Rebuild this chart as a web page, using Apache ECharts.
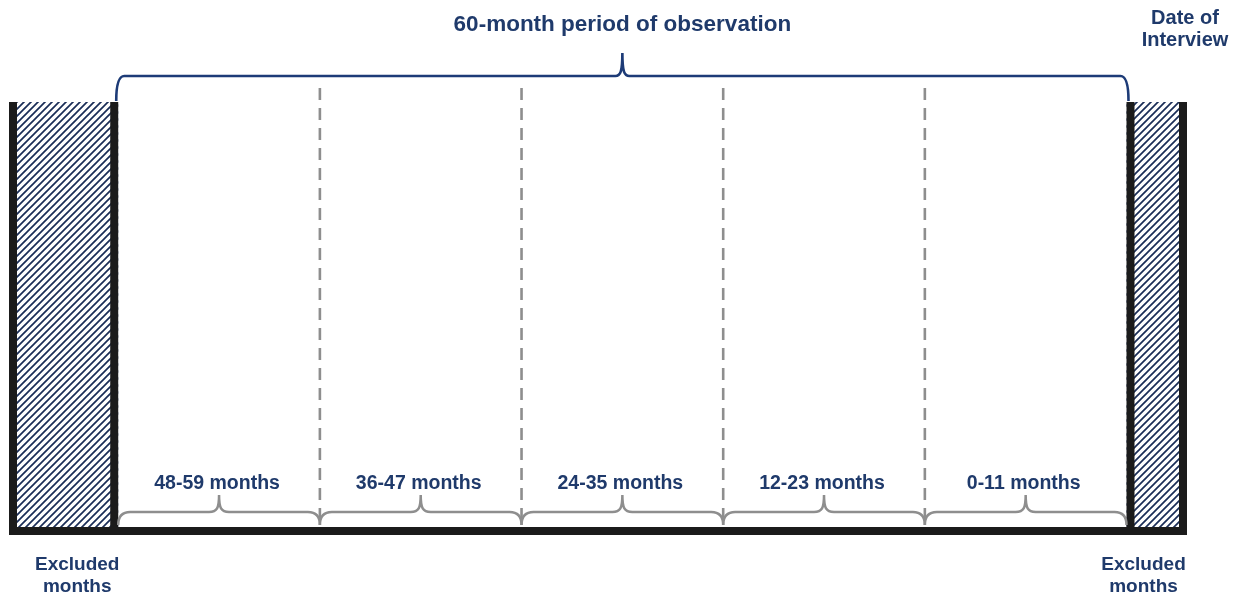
<!DOCTYPE html>
<html>
<head>
<meta charset="utf-8">
<style>
  html, body { margin: 0; padding: 0; background: #ffffff; }
  #chart { width: 1241px; height: 598px; }
</style>
<script src="https://cdn.jsdelivr.net/npm/echarts@6/dist/echarts.min.js"></script>
</head>
<body>
<div id="chart"></div>
<script>
// ---- data (months before the date of interview) ----
const periodLabels = ['48-59 months', '36-47 months', '24-35 months', '12-23 months', '0-11 months'];
const periodOlderEdge = [60, 48, 36, 24, 12];
const periodNewerEdge = [48, 36, 24, 12, 0];
const dividerMonths = [48, 36, 24, 12];
const excludedOlderEdge = [66.5, 0];
const excludedNewerEdge = [60, -3.6];
const excludedLabels = ['Excluded\nmonths', 'Excluded\nmonths'];
const excludedTopLabels = ['', 'Date of\nInterview'];
const observationSpan = [60, 0];
const observationLabel = '60-month period of observation';
const axisMin = -3.6;
const axisMax = 66.5;

// ---- styles ----
const NAVY = '#1f3a6b';
const BRACE_BLUE = '#1d3b77';
const GREY = '#8e8e8e';
const BLACK = '#1b1b1b';
const FONT = '"Liberation Sans", Arial, sans-serif';

function makeHatch() {
  const s = 7;
  const c = document.createElement('canvas');
  c.width = s; c.height = s;
  const g = c.getContext('2d');
  g.fillStyle = '#ffffff';
  g.fillRect(0, 0, s, s);
  g.strokeStyle = '#1a2d57';
  g.lineWidth = 1.7;
  g.beginPath();
  g.moveTo(-1, s + 1); g.lineTo(s + 1, -1);
  g.moveTo(-1, 1); g.lineTo(1, -1);
  g.moveTo(s - 1, s + 1); g.lineTo(s + 1, s - 1);
  g.stroke();
  return c;
}
const hatch = makeHatch();

function textEl(x, y, text, size, color) {
  return {
    type: 'text', x: x, y: y, silent: true,
    style: {
      text: text, fill: color, fontSize: size, fontWeight: 'bold', fontFamily: FONT,
      align: 'center', verticalAlign: 'middle', lineHeight: 22
    }
  };
}

function bracePath(xa, xb, yEnd, yBar, yTip, r, neck) {
  const x0 = Math.min(xa, xb), x1 = Math.max(xa, xb);
  const xm = (x0 + x1) / 2;
  const dir = yTip < yBar ? -1 : 1;
  return 'M' + x0 + ' ' + yEnd +
    ' Q' + x0 + ' ' + yBar + ' ' + (x0 + r) + ' ' + yBar +
    ' L' + (xm - neck) + ' ' + yBar +
    ' C' + (xm - 2) + ' ' + yBar + ' ' + xm + ' ' + (yBar + dir * 4) + ' ' + xm + ' ' + yTip +
    ' C' + xm + ' ' + (yBar + dir * 4) + ' ' + (xm + 2) + ' ' + yBar + ' ' + (xm + neck) + ' ' + yBar +
    ' L' + (x1 - r) + ' ' + yBar +
    ' Q' + x1 + ' ' + yBar + ' ' + x1 + ' ' + yEnd;
}

const excludedData = excludedOlderEdge.map((v, i) => [v, excludedNewerEdge[i], excludedLabels[i], excludedTopLabels[i], i]);
const periodData = periodLabels.map((l, i) => [periodOlderEdge[i], periodNewerEdge[i], l]);

const chart = echarts.init(document.getElementById('chart'), null, { renderer: 'canvas' });
chart.setOption({
  animation: false,
  backgroundColor: '#ffffff',
  grid: { left: 9, right: 54, top: 102, bottom: 63 },
  xAxis: { type: 'value', min: axisMin, max: axisMax, inverse: true, show: false },
  yAxis: { type: 'value', min: 0, max: 100, show: false },
  series: [
    {
      // excluded (hatched) months with heavy black sides
      type: 'custom', name: 'excluded', clip: false, silent: true,
      data: excludedData,
      renderItem: function (params, api) {
        const a = api.coord([api.value(0), 100]);
        const b = api.coord([api.value(1), 0]);
        const x0 = Math.min(a[0], b[0]), x1 = Math.max(a[0], b[0]);
        const yT = a[1], yB = b[1];
        const idx = api.value(4);
        const bw = 8;
        const children = [
          { type: 'rect', shape: { x: x0, y: yT, width: x1 - x0, height: yB - yT },
            style: { fill: { image: hatch, repeat: 'repeat' } } },
          { type: 'rect', shape: { x: x0, y: yT, width: bw, height: yB - yT }, style: { fill: BLACK } },
          { type: 'rect', shape: { x: x1 - bw, y: yT, width: bw, height: yB - yT }, style: { fill: BLACK } }
        ];
        const lx = idx === 0 ? x1 - 41 : x0 + 17;
        children.push(textEl(lx, yB + 41, excludedLabels[idx], 19, NAVY));
        if (excludedTopLabels[idx]) {
          children.push(textEl(x1 - 2, 29, excludedTopLabels[idx], 20, NAVY));
        }
        return { type: 'group', children: children };
      }
    },
    {
      // base line
      type: 'custom', name: 'base', clip: false, silent: true,
      data: [[axisMax, axisMin]],
      renderItem: function (params, api) {
        const a = api.coord([api.value(0), 0]);
        const b = api.coord([api.value(1), 0]);
        return { type: 'rect', shape: { x: a[0], y: a[1] - 8, width: b[0] - a[0], height: 8 }, style: { fill: BLACK } };
      }
    },
    {
      // dashed yearly dividers
      type: 'custom', name: 'dividers', clip: false, silent: true,
      data: dividerMonths.map(v => [v]),
      renderItem: function (params, api) {
        const t = api.coord([api.value(0), 100]);
        const b = api.coord([api.value(0), 0]);
        return { type: 'line', shape: { x1: t[0], y1: t[1] - 14, x2: b[0], y2: b[1] - 8 },
          style: { stroke: GREY, lineWidth: 2.6, lineDash: [12, 8] } };
      }
    },
    {
      // period braces and labels
      type: 'custom', name: 'periods', clip: false, silent: true,
      data: periodData,
      renderItem: function (params, api) {
        const a = api.coord([api.value(0), 0]);
        const b = api.coord([api.value(1), 0]);
        const yB = a[1];
        const xm = (a[0] + b[0]) / 2;
        return { type: 'group', children: [
          { type: 'path', shape: { pathData: bracePath(a[0], b[0], yB - 10, yB - 23, yB - 40, 12, 10) },
            style: { stroke: GREY, lineWidth: 2.5, fill: null } },
          textEl(xm - 2, yB - 51, periodLabels[params.dataIndex], 19.5, NAVY)
        ] };
      }
    },
    {
      // top observation-period brace and title
      type: 'custom', name: 'observation', clip: false, silent: true,
      data: [observationSpan],
      renderItem: function (params, api) {
        const a = api.coord([api.value(0), 100]);
        const b = api.coord([api.value(1), 100]);
        const yT = a[1];
        const xm = (a[0] + b[0]) / 2;
        return { type: 'group', children: [
          { type: 'path', shape: { pathData: bracePath(a[0] - 2, b[0] + 2, yT - 1, yT - 26, yT - 49, 8, 7) },
            style: { stroke: BRACE_BLUE, lineWidth: 2.6, fill: null } },
          textEl(xm, 25, observationLabel, 22.5, NAVY)
        ] };
      }
    }
  ]
});
</script>
</body>
</html>
